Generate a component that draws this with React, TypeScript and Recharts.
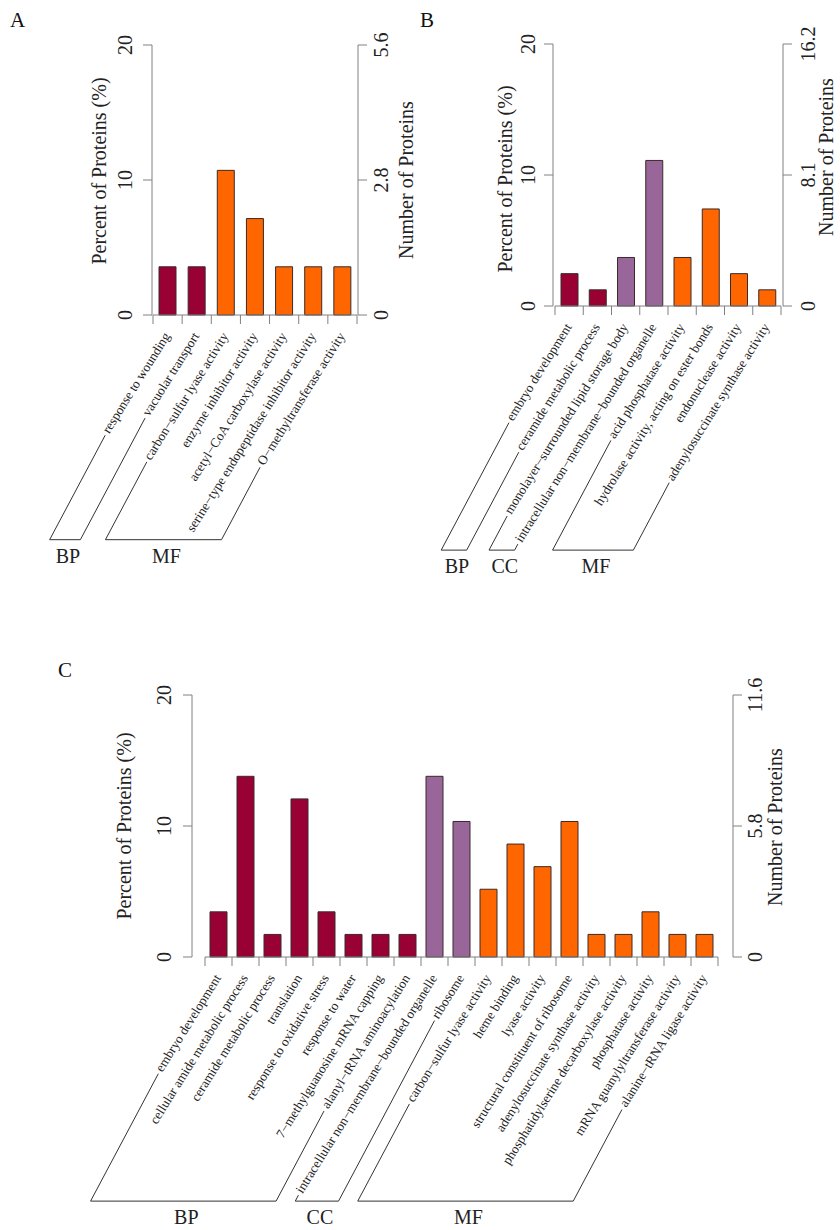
import React from 'react';
import { ComposedChart, Bar, Line, XAxis, YAxis, Cell } from 'recharts';

const FONT = '"Liberation Serif", "Times New Roman", Times, serif';
const GROUP_COLORS: Record<string, string> = { BP: '#990033', CC: '#996699', MF: '#FF6600' };
const AXIS_GRAY = '#808080';

// ---------- Panel A data ----------
const categoriesA = [
  'response to wounding',
  'vacuolar transport',
  'carbon\u2212sulfur lyase activity',
  'enzyme inhibitor activity',
  'acetyl\u2212CoA carboxylase activity',
  'serine\u2212type endopeptidase inhibitor activity',
  'O\u2212methyltransferase activity',
];
const groupsA = ['BP', 'BP', 'MF', 'MF', 'MF', 'MF', 'MF'];
const countsA = [1, 1, 3, 2, 1, 1, 1];
const totalA = 28;
const countTicksA = [0, 2.8, 5.6];

// ---------- Panel B data ----------
const categoriesB = [
  'embryo development',
  'ceramide metabolic process',
  'monolayer\u2212surrounded lipid storage body',
  'intracellular non\u2212membrane\u2212bounded organelle',
  'acid phosphatase activity',
  'hydrolase activity, acting on ester bonds',
  'endonuclease activity',
  'adenylosuccinate synthase activity',
];
const groupsB = ['BP', 'BP', 'CC', 'CC', 'MF', 'MF', 'MF', 'MF'];
const countsB = [2, 1, 3, 9, 3, 6, 2, 1];
const totalB = 81;
const countTicksB = [0, 8.1, 16.2];

// ---------- Panel C data ----------
const categoriesC = [
  'embryo development',
  'cellular amide metabolic process',
  'ceramide metabolic process',
  'translation',
  'response to oxidative stress',
  'response to water',
  '7\u2212methylguanosine mRNA capping',
  'alanyl\u2212tRNA aminoacylation',
  'intracellular non\u2212membrane\u2212bounded organelle',
  'ribosome',
  'carbon\u2212sulfur lyase activity',
  'heme binding',
  'lyase activity',
  'structural constituent of ribosome',
  'adenylosuccinate synthase activity',
  'phosphatidylserine decarboxylase activity',
  'phosphatase activity',
  'mRNA guanylyltransferase activity',
  'alanine\u2212tRNA ligase activity',
];
const groupsC = ['BP', 'BP', 'BP', 'BP', 'BP', 'BP', 'BP', 'BP', 'CC', 'CC', 'MF', 'MF', 'MF', 'MF', 'MF', 'MF', 'MF', 'MF', 'MF'];
const countsC = [2, 8, 1, 7, 2, 1, 1, 1, 8, 6, 3, 5, 4, 6, 1, 1, 2, 1, 1];
const totalC = 58;
const countTicksC = [0, 5.8, 11.6];

const percentTicks = [0, 10, 20];

function buildRows(cats: string[], groups: string[], counts: number[], total: number) {
  return cats.map((name, i) => ({
    name,
    group: groups[i],
    count: counts[i],
    pct: (counts[i] / total) * 100,
  }));
}

// ---------- text measuring ----------
let measureCtx: CanvasRenderingContext2D | null = null;
function textWidth(s: string, size: number): number {
  if (!measureCtx && typeof document !== 'undefined') {
    const c = document.createElement('canvas');
    measureCtx = c.getContext('2d');
  }
  if (!measureCtx) return s.length * size * 0.42;
  measureCtx.font = `${size}px "Liberation Serif"`;
  return measureCtx.measureText(s).width;
}

const TEXT_ANGLE = 58;
const BRACKET_ANGLE = 62;
const LABEL_SIZE = 13.2;
const END_DX = 3;
const END_DY = 21;

function makeXTick(labels: string[], groups: string[]) {
  const xs: number[] = [];
  return function XTick(props: any) {
    const { x, y, index } = props;
    xs[index] = x;
    const n = labels.length;
    const ta = (TEXT_ANGLE * Math.PI) / 180;
    const label = (
      <text
        x={0}
        y={0}
        transform={`translate(${x + END_DX},${y + END_DY}) rotate(${-TEXT_ANGLE})`}
        textAnchor="end"
        fontFamily={FONT}
        fontSize={LABEL_SIZE}
        fill="#222"
      >
        {labels[index]}
      </text>
    );
    if (index !== n - 1) return <g>{label}</g>;

    const band = n > 1 && xs[0] !== undefined ? (xs[n - 1] - xs[0]) / (n - 1) : 20;
    const centers = labels.map((_, i) => (xs[i] !== undefined ? xs[i] : x - band * (n - 1 - i)));
    const starts = labels.map((s, i) => {
      const L = textWidth(s, LABEL_SIZE);
      return { x: centers[i] + END_DX - L * Math.cos(ta), y: y + END_DY + L * Math.sin(ta) };
    });
    const ybot = Math.max(...starts.map((p) => p.y)) + 7;
    const cot = 1 / Math.tan((BRACKET_ANGLE * Math.PI) / 180);
    const runs: [number, number][] = [];
    let a0 = 0;
    for (let i = 1; i <= n; i++) {
      if (i === n || groups[i] !== groups[a0]) {
        runs.push([a0, i - 1]);
        a0 = i;
      }
    }
    const brackets = runs.map(([a, b]) => {
      const ta_ = { x: starts[a].x - 4, y: starts[a].y + 1 };
      const tb_ = { x: starts[b].x - 4, y: starts[b].y + 1 };
      const qa = { x: ta_.x - (ybot - ta_.y) * cot, y: ybot };
      const qb = { x: tb_.x - (ybot - tb_.y) * cot, y: ybot };
      return (
        <g key={`br-${a}`}>
          <path
            d={`M${ta_.x},${ta_.y}L${qa.x},${qa.y}L${qb.x},${qb.y}L${tb_.x},${tb_.y}`}
            fill="none"
            stroke="#333"
            strokeWidth={1}
          />
          <text x={(qa.x + qb.x) / 2 + 3} y={ybot + 23} textAnchor="middle" fontFamily={FONT} fontSize={20} fill="#222">
            {groups[a]}
          </text>
        </g>
      );
    });
    const bounds = [...centers.map((c) => c - band / 2), centers[n - 1] + band / 2];
    return (
      <g>
        {label}
        <line x1={bounds[0]} x2={bounds[n]} y1={y} y2={y} stroke={AXIS_GRAY} strokeWidth={1} />
        {bounds.map((bx, i) => (
          <line key={`bt-${i}`} x1={bx} x2={bx} y1={y} y2={y + 9} stroke={AXIS_GRAY} strokeWidth={1} />
        ))}
        {brackets}
      </g>
    );
  };
}

const YTick = (props: any) => {
  const { x, y, payload } = props;
  return (
    <text transform={`translate(${x},${y}) rotate(-90)`} textAnchor="middle" fontFamily={FONT} fontSize={20} fill="#222">
      {String(payload.value)}
    </text>
  );
};

const AxisTitle = (props: any) => {
  const { viewBox, side, text, off, dy } = props;
  const vb = viewBox || { x: 0, y: 0, width: 0, height: 0 };
  const axisX = side === 'left' ? vb.x + vb.width : vb.x;
  const tx = side === 'left' ? axisX - off : axisX + off;
  const ty = vb.y + vb.height / 2 + dy;
  return (
    <text transform={`translate(${tx},${ty}) rotate(-90)`} textAnchor="middle" fontFamily={FONT} fontSize={20} fill="#222">
      {text}
    </text>
  );
};

type Layout = {
  left: number;
  top: number;
  width: number;
  height: number;
  marginTop: number;
  leftAxisW: number;
  rightAxisW: number;
  xAxisH: number;
  padL: number;
  padR: number;
  leftTickM: number;
  rightTickM: number;
  leftTitleOff: number;
  leftTitleDy: number;
  rightTitleOff: number;
  rightTitleDy: number;
};

const layoutA: Layout = {
  left: 0, top: 0, width: 420, height: 600, marginTop: 45, leftAxisW: 152, rightAxisW: 62, xAxisH: 285,
  padL: 1, padR: 1, leftTickM: 11, rightTickM: 21, leftTitleOff: 46, leftTitleDy: -9, rightTitleOff: 55, rightTitleDy: 0,
};
const layoutB: Layout = {
  left: 420, top: 0, width: 420, height: 600, marginTop: 44, leftAxisW: 133, rightAxisW: 57, xAxisH: 294,
  padL: 2, padR: 2, leftTickM: 9, rightTickM: 23, leftTitleOff: 41, leftTitleDy: 4, rightTitleOff: 50, rightTitleDy: -18,
};
const layoutC: Layout = {
  left: 0, top: 640, width: 840, height: 590, marginTop: 55, leftAxisW: 192, rightAxisW: 107, xAxisH: 273,
  padL: 13, padR: 15, leftTickM: 12, rightTickM: 20, leftTitleOff: 61, leftTitleDy: 0, rightTitleOff: 49, rightTitleDy: 1,
};

const dataA = buildRows(categoriesA, groupsA, countsA, totalA);
const dataB = buildRows(categoriesB, groupsB, countsB, totalB);
const dataC = buildRows(categoriesC, groupsC, countsC, totalC);

const XTickA = makeXTick(categoriesA, groupsA);
const XTickB = makeXTick(categoriesB, groupsB);
const XTickC = makeXTick(categoriesC, groupsC);

function Panel({ data, lay, tick, countTicks }: { data: any[]; lay: Layout; tick: any; countTicks: number[] }) {
  return (
    <div style={{ position: 'absolute', left: lay.left, top: lay.top, width: lay.width, height: lay.height }}>
      <ComposedChart
        width={lay.width}
        height={lay.height}
        data={data}
        margin={{ top: lay.marginTop, right: 0, bottom: 0, left: 0 }}
      >
        <XAxis
          dataKey="name"
          interval={0}
          tickSize={0}
          tickMargin={0}
          axisLine={false}
          tickLine={false}
          height={lay.xAxisH}
          padding={{ left: lay.padL, right: lay.padR }}
          tick={tick}
        />
        <YAxis
          yAxisId="p"
          orientation="left"
          width={lay.leftAxisW}
          domain={[0, 20]}
          ticks={percentTicks}
          interval={0}
          tickSize={9}
          tickMargin={lay.leftTickM}
          stroke={AXIS_GRAY}
          tick={YTick}
          label={<AxisTitle side="left" text="Percent of Proteins (%)" off={lay.leftTitleOff} dy={lay.leftTitleDy} />}
        />
        <YAxis
          yAxisId="n"
          orientation="right"
          width={lay.rightAxisW}
          domain={[0, countTicks[countTicks.length - 1]]}
          ticks={countTicks}
          interval={0}
          tickSize={9}
          tickMargin={lay.rightTickM}
          stroke={AXIS_GRAY}
          tick={YTick}
          label={<AxisTitle side="right" text="Number of Proteins" off={lay.rightTitleOff} dy={lay.rightTitleDy} />}
        />
        <Bar yAxisId="p" dataKey="pct" barSize={17} stroke="#3a2a2a" strokeWidth={1} isAnimationActive={false}>
          {data.map((d, i) => (
            <Cell key={`c-${i}`} fill={GROUP_COLORS[d.group]} />
          ))}
        </Bar>
        <Line yAxisId="n" dataKey="count" stroke="none" dot={false} activeDot={false} isAnimationActive={false} />
      </ComposedChart>
    </div>
  );
}

export default function App() {
  return (
    <div style={{ position: 'absolute', left: 0, top: 0, width: 840, height: 1230, background: '#fff', fontFamily: FONT }}>
      <Panel data={dataA} lay={layoutA} tick={XTickA} countTicks={countTicksA} />
      <Panel data={dataB} lay={layoutB} tick={XTickB} countTicks={countTicksB} />
      <Panel data={dataC} lay={layoutC} tick={XTickC} countTicks={countTicksC} />
      <svg width={840} height={1230} style={{ position: 'absolute', left: 0, top: 0, pointerEvents: 'none' }}>
        <text x={10} y={27} fontFamily={FONT} fontSize={21} fill="#111">A</text>
        <text x={420} y={27} fontFamily={FONT} fontSize={21} fill="#111">B</text>
        <text x={58} y={677} fontFamily={FONT} fontSize={21} fill="#111">C</text>
      </svg>
    </div>
  );
}
